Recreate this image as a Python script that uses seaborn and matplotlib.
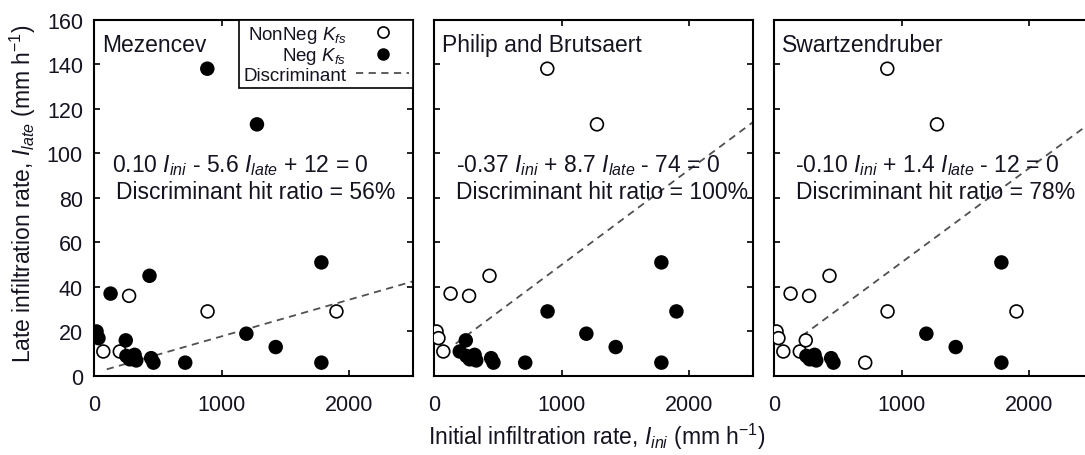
import matplotlib
matplotlib.use("Agg")
import matplotlib.pyplot as plt
from matplotlib.lines import Line2D
import numpy as np
import pandas as pd
import seaborn as sns

# Initial and late infiltration rates of the runs (mm h-1)
i_ini = [20, 35, 73, 130, 202, 249, 254, 280, 318, 331, 275, 435, 448, 466,
         715, 888, 890, 1194, 1277, 1424, 1782, 1782, 1900]
i_late = [20, 17, 11, 37, 11, 16, 9, 7.5, 9.5, 7, 36, 45, 8, 6,
          6, 138, 29, 19, 113, 13, 51, 6, 29]

# Sign of the fitted Kfs for each model
kfs_mezencev = ["Neg", "Neg", "NonNeg", "Neg", "NonNeg", "Neg", "Neg", "Neg",
                "Neg", "Neg", "NonNeg", "Neg", "Neg", "Neg", "Neg", "Neg",
                "NonNeg", "Neg", "Neg", "Neg", "Neg", "Neg", "NonNeg"]
kfs_philip = ["NonNeg", "NonNeg", "NonNeg", "NonNeg", "Neg", "Neg", "Neg", "Neg",
              "Neg", "Neg", "NonNeg", "NonNeg", "Neg", "Neg", "Neg", "NonNeg",
              "Neg", "Neg", "NonNeg", "Neg", "Neg", "Neg", "Neg"]
kfs_swartz = ["NonNeg", "NonNeg", "NonNeg", "NonNeg", "NonNeg", "NonNeg", "Neg",
              "Neg", "Neg", "Neg", "NonNeg", "NonNeg", "Neg", "Neg", "NonNeg",
              "NonNeg", "NonNeg", "Neg", "NonNeg", "Neg", "Neg", "Neg", "NonNeg"]

models = ["Mezencev", "Philip and Brutsaert", "Swartzendruber"]
equations = [r"0.10 $I_{ini}$ - 5.6 $I_{late}$ + 12 = 0",
             r"-0.37 $I_{ini}$ + 8.7 $I_{late}$ - 74 = 0",
             r"-0.10 $I_{ini}$ + 1.4 $I_{late}$ - 12 = 0"]
hit_ratios = [56, 100, 78]

# Discriminant line end points (I_ini, I_late)
disc_x = [[100, 2500], [170, 2500], [220, 2500]]
disc_y = [[3.0, 42.5], [14.5, 114], [18, 114.5]]

x_ticks = [0, 1000, 2000]
y_ticks = [0, 20, 40, 60, 80, 100, 120, 140, 160]

sns.set_theme(style="ticks")
plt.rcParams["font.family"] = ["Liberation Sans", "DejaVu Sans"]
plt.rcParams["mathtext.fontset"] = "custom"
plt.rcParams["mathtext.rm"] = "Liberation Sans"
plt.rcParams["mathtext.it"] = "Liberation Sans:italic"
plt.rcParams["mathtext.default"] = "it"
TXT = "#141420"
FS = 16.5

fig = plt.figure(figsize=(10.85, 4.56), dpi=100)
W, H = 1085, 456
ax_w, ax_h = 319 / W, 356.3 / H
bottom = (H - 377) / H
lefts = [94 / W, 434 / W, 774 / W]

groups = [kfs_mezencev, kfs_philip, kfs_swartz]
eq_x = [0.460, 0.483, 0.479]
hit_x = [0.508, 0.526, 0.507]

axes = []
for k in range(3):
    ax = fig.add_axes([lefts[k], bottom, ax_w, ax_h])
    axes.append(ax)
    df = pd.DataFrame({"Iini": i_ini, "Ilate": i_late, "Kfs": groups[k]})
    sns.lineplot(x=disc_x[k], y=disc_y[k], ax=ax, color="#505050",
                 linewidth=1.3, linestyle="--", zorder=1)
    ax.lines[-1].set_dashes((4, 3))
    sns.scatterplot(data=df, x="Iini", y="Ilate", hue="Kfs",
                    palette={"NonNeg": "white", "Neg": "black"},
                    edgecolor="black", linewidth=1.2, s=85, legend=False,
                    ax=ax, zorder=3)
    ax.set_xlim(0, 2500)
    ax.set_ylim(0, 160)
    ax.set_xticks(x_ticks)
    ax.set_yticks(y_ticks)
    ax.tick_params(direction="in", top=True, right=True, length=4, width=1.2,
                   labelsize=15.5, colors="black", labelcolor=TXT)
    ax.tick_params(axis="x", pad=13)
    ax.tick_params(axis="y", pad=8)
    for sp in ax.spines.values():
        sp.set_linewidth(1.5)
        sp.set_color("black")
    ax.set_xlabel("")
    ax.set_ylabel("")
    if k > 0:
        ax.tick_params(axis="y", labelleft=False)
    ax.text(0.026, 0.962, models[k], transform=ax.transAxes, ha="left",
            va="top", fontsize=FS, color=TXT)
    ax.text(eq_x[k], 0.576, equations[k], transform=ax.transAxes,
            ha="center", va="baseline", fontsize=FS, color=TXT)
    ax.text(hit_x[k], 0.5, f"Discriminant hit ratio = {hit_ratios[k]}%",
            transform=ax.transAxes, ha="center", va="baseline", fontsize=FS,
            color=TXT)

ax1 = axes[0]
ax1.set_ylabel(r"Late infiltration rate, $I_{late}$ (mm h$^{-1}$)",
               fontsize=FS, color=TXT)
ax1.yaxis.set_label_coords(-0.176, 0.514)

fig.text(0.550, 0.042, r"Initial infiltration rate, $I_{ini}$ (mm h$^{-1}$)",
         ha="center", va="center", fontsize=FS, color=TXT)

handles = [
    Line2D([], [], marker="o", linestyle="none", markerfacecolor="white",
           markeredgecolor="black", markersize=8, markeredgewidth=1.2,
           label=r"NonNeg $K_{fs}$"),
    Line2D([], [], marker="o", linestyle="none", markerfacecolor="black",
           markeredgecolor="black", markersize=8, label=r"Neg $K_{fs}$"),
    Line2D([], [], color="#505050", linewidth=1.3, dashes=(4, 3),
           label="Discriminant"),
]
leg = ax1.legend(handles=handles, loc="upper right", bbox_to_anchor=(1, 1),
                 borderaxespad=0, markerfirst=False, frameon=True,
                 fancybox=False, edgecolor="black", fontsize=13.5,
                 handlelength=2.8, labelspacing=0.02, handletextpad=0.55,
                 borderpad=0.22, framealpha=1)
leg.get_frame().set_linewidth(1.2)
for t in leg.get_texts():
    t.set_color(TXT)

fig.savefig("out.png", dpi=100)
